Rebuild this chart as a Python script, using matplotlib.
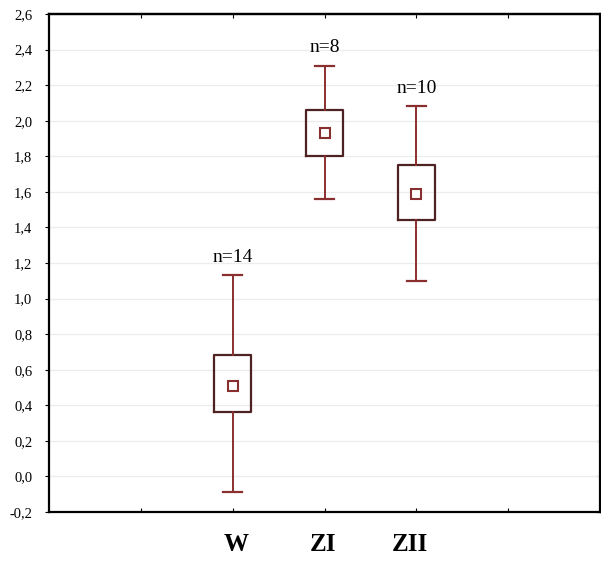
import matplotlib
matplotlib.use("Agg")
import matplotlib.pyplot as plt
from matplotlib.ticker import FuncFormatter

# groups and their summary values
groups = ["W", "ZI", "ZII"]
n_obs = [14, 8, 10]
means = [0.51, 1.93, 1.59]
box_lo = [0.36, 1.80, 1.44]
box_hi = [0.68, 2.06, 1.75]
whisk_lo = [-0.09, 1.56, 1.10]
whisk_hi = [1.13, 2.31, 2.08]

positions = [2, 3, 4]
label_x = [2.04, 2.98, 3.93]

plt.rcParams['font.family'] = ['Liberation Serif', 'DejaVu Serif']

fig = plt.figure(figsize=(6.01, 5.61), dpi=100)
ax = fig.add_axes([49/601, 49/561, 551/601, 498/561])

stats = []
for i in range(len(groups)):
    stats.append(dict(whislo=whisk_lo[i], q1=box_lo[i], med=means[i],
                      q3=box_hi[i], whishi=whisk_hi[i], mean=means[i],
                      fliers=[]))

ax.bxp(stats, positions=positions, widths=0.41, capwidths=0.2,
       showmeans=True, showfliers=False,
       boxprops=dict(color='#4e2222', linewidth=1.6),
       whiskerprops=dict(color='#8a2f2f', linewidth=1.4),
       capprops=dict(color='#8a2f2f', linewidth=1.6),
       medianprops=dict(linewidth=0),
       meanprops=dict(marker='s', markersize=7, markerfacecolor='white',
                      markeredgecolor='#8a2f2f', markeredgewidth=1.5))

for i in range(len(groups)):
    ax.text(positions[i], whisk_hi[i] + 0.1, "n=%d" % n_obs[i],
            ha='center', va='center', fontsize=14)
    ax.text(label_x[i], -0.066, groups[i], transform=ax.get_xaxis_transform(),
            ha='center', va='center', fontsize=18, fontweight='bold')

ax.set_xlim(0, 6)
ax.set_ylim(-0.2, 2.6)
ax.set_yticks([-0.2 + 0.2 * k for k in range(15)])
ax.yaxis.set_major_formatter(FuncFormatter(lambda v, p: ("%.1f" % v).replace('.', ',')))
ax.set_xticks([1, 2, 3, 4, 5])
ax.set_xticklabels([])
ax.tick_params(axis='y', direction='out', length=3, labelsize=10.5, pad=9)
ax.tick_params(axis='x', direction='in', length=3)
ax.yaxis.grid(True, color='#ececec', linewidth=0.9)
ax.set_axisbelow(True)

sec_y = ax.secondary_yaxis('right')
sec_y.set_yticks(ax.get_yticks())
sec_y.tick_params(direction='in', length=3, labelright=False)
sec_x = ax.secondary_xaxis('top')
sec_x.set_xticks([1, 2, 3, 4, 5])
sec_x.tick_params(direction='in', length=3, labeltop=False)

for sp in ax.spines.values():
    sp.set_linewidth(1.6)
sec_y.spines['right'].set_linewidth(1.0)
sec_x.spines['top'].set_linewidth(1.6)

plt.savefig('out.png', dpi=100)
